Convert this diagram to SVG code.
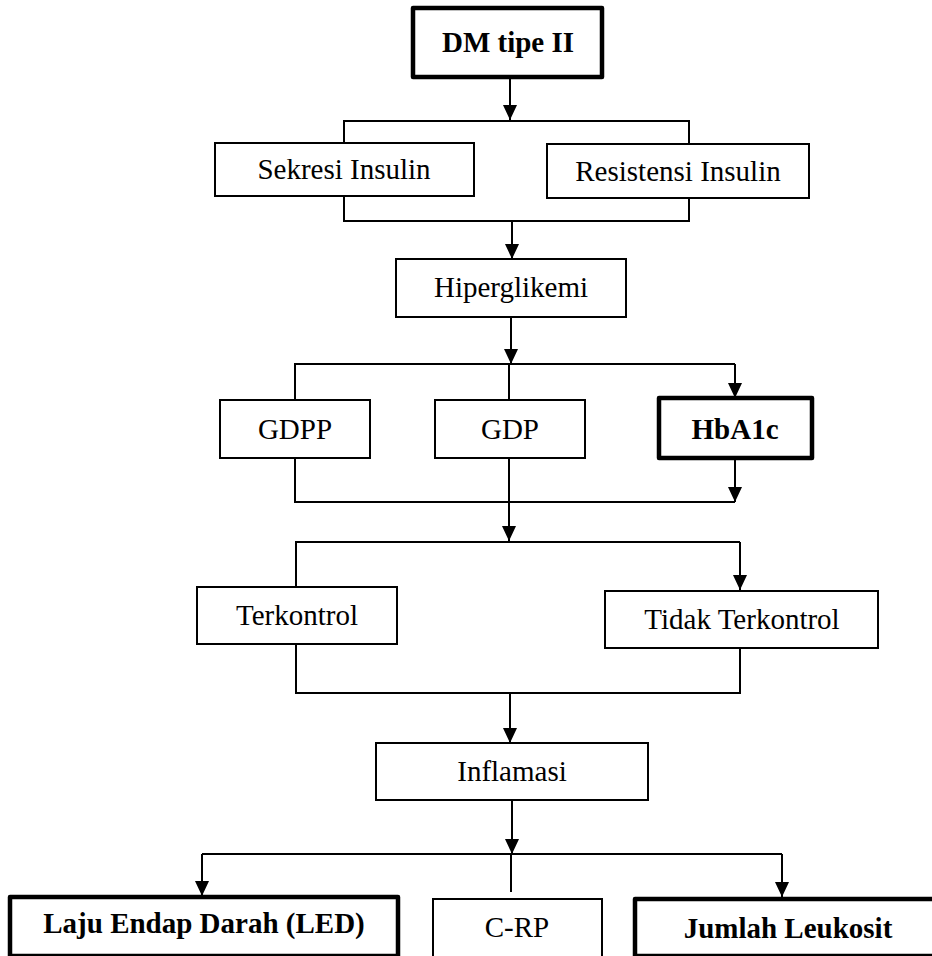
<svg xmlns="http://www.w3.org/2000/svg" width="932" height="956" viewBox="0 0 932 956">
<style>
.box{fill:#fff;stroke:#000;stroke-width:2}
.bold{fill:#fff;stroke:#000;stroke-width:4.5;stroke-linejoin:round}
.t{font-family:"Liberation Serif","Times New Roman",serif;font-size:29px;fill:#000;text-anchor:middle}
.tb{font-family:"Liberation Serif","Times New Roman",serif;font-size:29px;font-weight:bold;fill:#000;text-anchor:middle}
.ln{fill:none;stroke:#000;stroke-width:2}
.ar{fill:none;stroke:#000;stroke-width:2;marker-end:url(#ah)}
</style>
<defs>
<marker id="ah" viewBox="0 0 15 14" refX="15" refY="7" markerWidth="15" markerHeight="14" markerUnits="userSpaceOnUse" orient="auto">
<path d="M0,0 L15,7 L0,14 z" fill="#000"/>
</marker>
</defs>
<rect width="932" height="956" fill="#fff"/>
<g id="connectors">
<line class="ar" x1="510" y1="77" x2="510" y2="120"/>
<polyline class="ln" points="344,143 344,121 689,121 689,144"/>
<polyline class="ln" points="344,196 344,221 689,221 689,198"/>
<line class="ar" x1="512" y1="221" x2="512" y2="259"/>
<line class="ar" x1="511" y1="317" x2="511" y2="364"/>
<polyline class="ln" points="295,400 295,364 735,364"/>
<line class="ln" x1="509" y1="364" x2="509" y2="400"/>
<line class="ar" x1="735" y1="364" x2="735" y2="398"/>
<polyline class="ln" points="295,458 295,502 735,502"/>
<line class="ar" x1="735" y1="458" x2="735" y2="502"/>
<line class="ar" x1="509" y1="458" x2="509" y2="541"/>
<polyline class="ln" points="296,587 296,542 740,542"/>
<line class="ar" x1="740" y1="542" x2="740" y2="590"/>
<polyline class="ln" points="296,644 296,693 740,693 740,648"/>
<line class="ar" x1="510" y1="693" x2="510" y2="743"/>
<line class="ar" x1="512" y1="800" x2="512" y2="854"/>
<line class="ln" x1="202" y1="854" x2="782" y2="854"/>
<line class="ar" x1="202" y1="854" x2="202" y2="896"/>
<line class="ln" x1="511" y1="854" x2="511" y2="892"/>
<line class="ar" x1="782" y1="854" x2="782" y2="897"/>
</g>
<g id="dm"><rect class="bold" x="413" y="8" width="189" height="69"/><text class="tb" x="508" y="52">DM tipe II</text></g>
<g id="sekresi"><rect class="box" x="215" y="143" width="259" height="53"/><text class="t" x="344" y="179">Sekresi Insulin</text></g>
<g id="resistensi"><rect class="box" x="547" y="144" width="262" height="54"/><text class="t" x="678" y="181">Resistensi Insulin</text></g>
<g id="hiperglikemi"><rect class="box" x="396" y="259" width="230" height="58"/><text class="t" x="511" y="297">Hiperglikemi</text></g>
<g id="gdpp"><rect class="box" x="220" y="400" width="150" height="58"/><text class="t" x="295" y="439">GDPP</text></g>
<g id="gdp"><rect class="box" x="435" y="400" width="150" height="58"/><text class="t" x="510" y="439">GDP</text></g>
<g id="hba1c"><rect class="bold" x="659" y="398" width="153" height="60"/><text class="tb" x="735" y="439">HbA1c</text></g>
<g id="terkontrol"><rect class="box" x="197" y="587" width="200" height="57"/><text class="t" x="297" y="625">Terkontrol</text></g>
<g id="tidak"><rect class="box" x="605" y="591" width="273" height="57"/><text class="t" x="742" y="629">Tidak Terkontrol</text></g>
<g id="inflamasi"><rect class="box" x="376" y="743" width="272" height="57"/><text class="t" x="512" y="781">Inflamasi</text></g>
<g id="led"><rect class="bold" x="10" y="897" width="388" height="59"/><text class="tb" x="204" y="933">Laju Endap Darah (LED)</text></g>
<g id="crp"><rect class="box" x="433" y="899" width="169" height="58"/><text class="t" x="517" y="937">C-RP</text></g>
<g id="leukosit"><rect class="bold" x="635" y="899" width="310" height="57"/><text class="tb" x="788" y="938">Jumlah Leukosit</text></g>
</svg>
